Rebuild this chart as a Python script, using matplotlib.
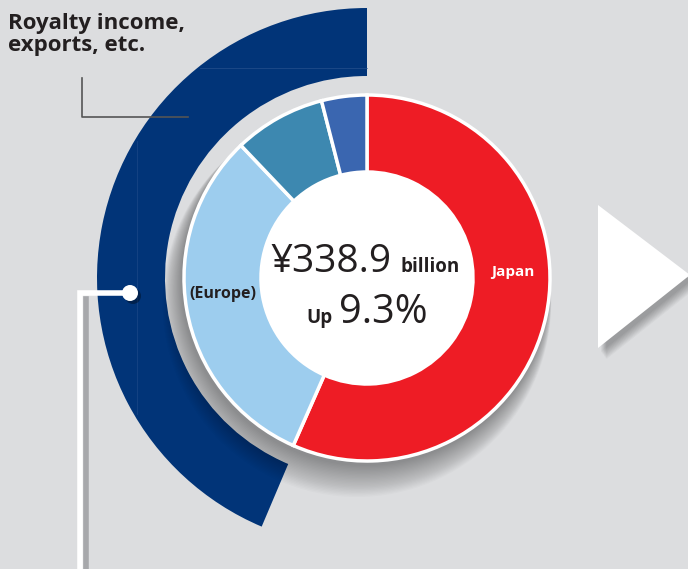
import matplotlib
matplotlib.use("Agg")
import matplotlib.pyplot as plt
from matplotlib.patches import Wedge, Circle, Polygon

plt.rcParams['font.family'] = ['Open Sans', 'DejaVu Sans']

# Sales breakdown (share of total, %)
segments = ['Japan', '(Europe)', 'Other overseas', 'Royalty etc.']
shares = [56.6, 31.3, 8.1, 4.0]
seg_colors = ['#ee1c25', '#9dcdee', '#3d88b0', '#3a66b0']

total_text = '¥338.9'
total_unit = 'billion'
growth_text = '9.3%'
callout_text = 'Royalty income,\nexports, etc.'

BG = '#dcdddf'
NAVY = '#013478'
W, H = 688, 569
cx, cy = 367, 291      # donut centre (pixel coords, y up)
r_out, r_in = 183, 106

fig = plt.figure(figsize=(6.88, 5.69), dpi=100, facecolor=BG)
ax = fig.add_axes([0, 0, 1, 1])
ax.set_facecolor(BG)

# outer navy arc covers the overseas share
overseas = sum(shares[1:])
ax.add_patch(Wedge((cx, cy), 270, 90, 90 + 360 * overseas / 100 + 0.8, width=68,
                   facecolor=NAVY, edgecolor='none', zorder=1))
# faint guide lines visible on the navy band
ax.plot([200, 367], [501, 501], color='#2c5591', lw=0.6, alpha=0.7, zorder=1.5)
ax.plot([137, 137], [155, 428], color='#2c5591', lw=0.6, alpha=0.5, zorder=1.5)

# soft shadow under the donut
for k in range(24):
    ax.add_patch(Circle((cx - 2 - k * 0.35, cy - 4 - k * 0.9), r_out + 1 + k * 0.45,
                        facecolor='black', alpha=0.017, lw=0, zorder=2))

# donut
ax.pie(shares, colors=seg_colors, startangle=90, counterclock=False,
       radius=r_out, center=(cx, cy), frame=True,
       wedgeprops=dict(width=r_out - r_in, edgecolor='white', linewidth=2.5, zorder=3))
ax.add_patch(Circle((cx, cy), r_in, facecolor='white', lw=0, zorder=4))

# centre texts
ax.text(392, 569 - 272, total_text, ha='right', va='baseline', fontsize=28,
        color='#231f20', zorder=5)
ax.text(401, 569 - 272, total_unit, ha='left', va='baseline', fontsize=13.5,
        fontweight='bold', color='#231f20', zorder=5)
ax.text(333, 569 - 323, 'Up', ha='right', va='baseline', fontsize=13.5,
        fontweight='bold', color='#231f20', zorder=5)
ax.text(339, 569 - 323, growth_text, ha='left', va='baseline', fontsize=28.5,
        color='#231f20', zorder=5)

# segment labels
ax.text(513, 569 - 272, segments[0], ha='center', va='center', fontsize=11,
        fontweight='bold', color='white', zorder=5)
ax.text(223, 569 - 294, segments[1], ha='center', va='center', fontsize=11.5,
        fontweight='bold', color='#231f20', zorder=5)

# callout label and leader line
ax.text(8, 569 - 13, callout_text, ha='left', va='top', fontsize=16,
        fontweight='bold', color='#231f20', linespacing=1.05, zorder=5)
ax.plot([82, 82, 188], [569 - 78, 569 - 117, 569 - 117], color='#555555',
        lw=1.2, zorder=5)

# white pointer line with dot
ax.plot([86, 86], [0, 270], color='#9a9b9e', lw=4, alpha=0.8, zorder=5)
ax.plot([130, 80, 80], [276, 276, 0], color='white', lw=4,
        solid_joinstyle='miter', zorder=6)
ax.add_patch(Circle((133, 273), 8, facecolor='black', alpha=0.35, lw=0, zorder=6))
ax.add_patch(Circle((130, 276), 8, facecolor='white', lw=0, zorder=7))

# arrow triangle on the right with shadow
tri = [(598, 364), (598, 221), (690, 294)]
for k in range(10):
    off = [(x + 3 + k * 0.6, y - 4 - k * 0.8) for x, y in tri]
    ax.add_patch(Polygon(off, closed=True, facecolor='black', alpha=0.03,
                         lw=0, zorder=5))
ax.add_patch(Polygon(tri, closed=True, facecolor='white', lw=0, zorder=6))

ax.set_xlim(0, W)
ax.set_ylim(0, H)
ax.set_aspect('auto')
ax.axis('off')

fig.savefig('out.png', dpi=100, facecolor=BG)
